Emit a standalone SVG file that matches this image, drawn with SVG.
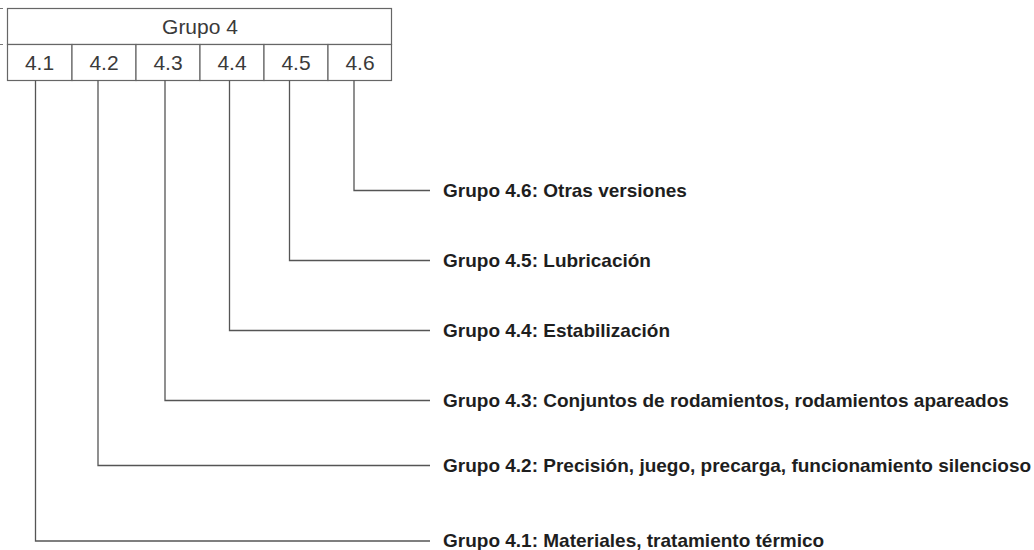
<svg xmlns="http://www.w3.org/2000/svg" width="1034" height="550" viewBox="0 0 1034 550">
<style>
.cell{fill:#fff;stroke:#666;stroke-width:1.2}
.hd{font-family:"Liberation Sans",Arial,sans-serif;font-size:21px;fill:#3a3a3a;text-anchor:middle}
.conn{fill:none;stroke:#555;stroke-width:1.3}
.lbl{font-family:"Liberation Sans",Arial,sans-serif;font-size:19px;font-weight:bold;fill:#1e1e1e}
.tick{stroke:#777;stroke-width:1}
</style>
<rect width="1034" height="550" fill="#fff"/>
<g id="ticks">
<line class="tick" x1="0" y1="8.5" x2="3" y2="8.5"/>
<line class="tick" x1="0" y1="44.5" x2="3" y2="44.5"/>
</g>
<g id="header">
<rect class="cell" x="7.5" y="8.5" width="384" height="36"/>
<text class="hd" x="200" y="33.5">Grupo 4</text>
</g>
<g id="n41"><rect class="cell" x="7.5" y="44.5" width="64.5" height="36"/><text class="hd" x="39.5" y="70">4.1</text></g>
<g id="n42"><rect class="cell" x="72" y="44.5" width="64" height="36"/><text class="hd" x="104" y="70">4.2</text></g>
<g id="n43"><rect class="cell" x="136" y="44.5" width="64" height="36"/><text class="hd" x="168" y="70">4.3</text></g>
<g id="n44"><rect class="cell" x="200" y="44.5" width="64" height="36"/><text class="hd" x="232" y="70">4.4</text></g>
<g id="n45"><rect class="cell" x="264" y="44.5" width="64" height="36"/><text class="hd" x="296" y="70">4.5</text></g>
<g id="n46"><rect class="cell" x="328" y="44.5" width="63.5" height="36"/><text class="hd" x="360" y="70">4.6</text></g>
<g id="connectors">
<polyline class="conn" points="354,80.5 354,190.5 430,190.5"/>
<polyline class="conn" points="289.5,80.5 289.5,260.5 430,260.5"/>
<polyline class="conn" points="229.5,80.5 229.5,330.5 430,330.5"/>
<polyline class="conn" points="165,80.5 165,400.5 430,400.5"/>
<polyline class="conn" points="98,80.5 98,465.5 430,465.5"/>
<polyline class="conn" points="35.5,80.5 35.5,541 430,541"/>
</g>
<g id="l46"><text class="lbl" x="443" y="197">Grupo 4.6: Otras versiones</text></g>
<g id="l45"><text class="lbl" x="443" y="267">Grupo 4.5: Lubricación</text></g>
<g id="l44"><text class="lbl" x="443" y="337">Grupo 4.4: Estabilización</text></g>
<g id="l43"><text class="lbl" x="443" y="407">Grupo 4.3: Conjuntos de rodamientos, rodamientos apareados</text></g>
<g id="l42"><text class="lbl" x="443" y="472">Grupo 4.2: Precisión, juego, precarga, funcionamiento silencioso</text></g>
<g id="l41"><text class="lbl" x="443" y="547">Grupo 4.1: Materiales, tratamiento térmico</text></g>
</svg>
